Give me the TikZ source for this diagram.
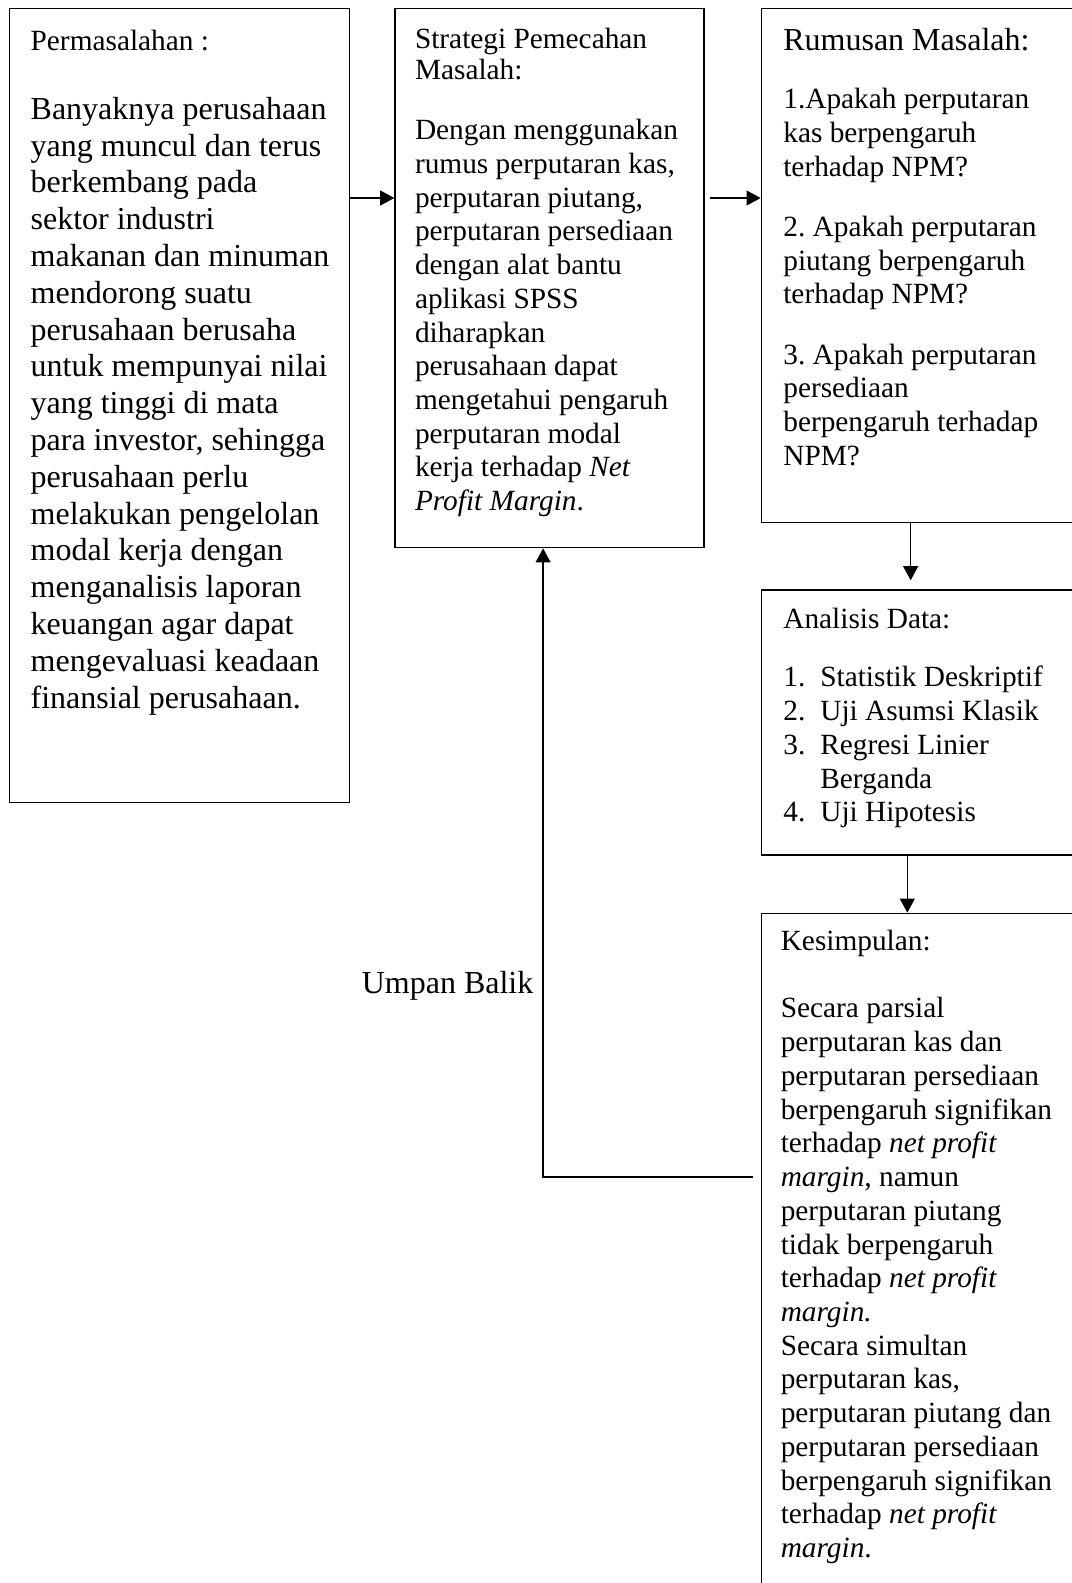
\documentclass[tikz,border=0pt]{standalone}
\usepackage{fontspec}
\setmainfont{Liberation Serif}
\usetikzlibrary{positioning,arrows.meta}
\frenchspacing

\begin{document}
\begin{tikzpicture}[x=0.375pt,y=-0.375pt,>={Triangle[length=5.3pt,width=5.6pt]},
  kotak/.style={draw,line width=0.5pt,anchor=north west,inner sep=0pt,align=flush left},
  isi/.style={font=\fontsize{11pt}{12.65pt}\selectfont},
  isibesar/.style={font=\fontsize{12pt}{13.8pt}\selectfont}]

\useasboundingbox (0,0) rectangle (1072,1583);
\clip (0,0) rectangle (1072,1583);

\node[kotak,isibesar,text width=127.5pt,text height=15.6pt,text depth=282.15pt] (masalah) at (9,8)
  {\leftskip=7.875pt{\fontsize{11pt}{12.65pt}\selectfont Permasalahan :}\\[12.1pt]
   Banyaknya perusahaan\\ yang muncul dan terus\\ berkembang pada\\ sektor industri\\
   makanan dan minuman\\ mendorong suatu\\ perusahaan berusaha\\ untuk mempunyai nilai\\
   yang tinggi di mata\\ para investor, sehingga\\ perusahaan perlu\\ melakukan pengelolan\\
   modal kerja dengan\\ menganalisis laporan\\ keuangan agar dapat\\ mengevaluasi keadaan\\
   finansial perusahaan.\par};

\node[kotak,isi,text width=115.875pt,text height=14.8pt,text depth=187.325pt,
      right=16.5pt of masalah.north east,anchor=north west] (strategi)
  {\leftskip=7.5pt Strategi Pemecahan\\[-0.9pt] Masalah:\\[9.9pt]
   Dengan menggunakan\\ rumus perputaran kas,\\ perputaran piutang,\\ perputaran persediaan\\
   dengan alat bantu\\ aplikasi SPSS\\ diharapkan\\ perusahaan dapat\\ mengetahui pengaruh\\
   perputaran modal\\ kerja terhadap \textit{Net}\\ \textit{Profit Margin}.\par};

\node[kotak,isi,text width=124.5pt,text height=15.7pt,text depth=177.05pt,
      right=21pt of strategi.north east,anchor=north west] (rumusan)
  {\leftskip=8.25pt{\fontsize{12pt}{13.8pt}\selectfont Rumusan Masalah:}\\[9.2pt]
   1.Apakah perputaran\\ kas berpengaruh\\ terhadap NPM?\\[9.85pt]
   2. Apakah perputaran\\ piutang berpengaruh\\ terhadap NPM?\\[10pt]
   3. Apakah perputaran\\ persediaan\\ berpengaruh terhadap\\ NPM?\par};

\node[kotak,isi,text width=124.5pt,text height=14.3pt,text depth=85.075pt,
      below=24.75pt of rumusan.south west,anchor=north west] (analisis)
  {\leftskip=8.25pt Analisis Data:\\[9.4pt]
   \makebox[13.875pt][l]{1.}Statistik Deskriptif\\
   \makebox[13.875pt][l]{2.}Uji Asumsi Klasik\\
   \makebox[13.875pt][l]{3.}Regresi Linier\\
   \hspace*{13.875pt}Berganda\\
   \makebox[13.875pt][l]{4.}Uji Hipotesis\par};

\node[kotak,isi,text width=124.5pt,text height=14pt,text depth=300pt,
      below=21.375pt of analisis.south west,anchor=north west] (kesimpulan)
  {\leftskip=7.3pt Kesimpulan:\\[12.55pt]
   Secara parsial\\ perputaran kas dan\\ perputaran persediaan\\ berpengaruh signifikan\\
   terhadap \textit{net profit}\\ \textit{margin}, namun\\ perputaran piutang\\ tidak berpengaruh\\
   terhadap \textit{net profit}\\ \textit{margin.}\\ Secara simultan\\ perputaran kas,\\
   perputaran piutang dan\\ perputaran persediaan\\ berpengaruh signifikan\\
   terhadap \textit{net profit}\\ \textit{margin}.\par};

% panah antar kotak
\draw[->,line width=0.5pt] ([yshift=-71.25pt]masalah.north east) -- ([yshift=-71.25pt]strategi.north west);
\draw[->,line width=0.5pt,shorten <=1.9pt] ([yshift=-71.25pt]strategi.north east) -- ([yshift=-71.25pt]rumusan.north west);
\draw[->,line width=0.5pt,shorten >=3.4pt] ([xshift=56.25pt]rumusan.south west) -- ([xshift=56.25pt]analisis.north west);
\draw[->,line width=0.5pt] ([xshift=55pt]analisis.south west) -- ([xshift=55pt]kesimpulan.north west);

% umpan balik
\coordinate (balik) at (753,1177);
\draw[->,line width=0.5pt] (balik) -| node[pos=0.652,left,isibesar,inner sep=3.4pt] (umpan) {Umpan Balik}
  ([xshift=-2.4pt]strategi.south);

\end{tikzpicture}
\end{document}
